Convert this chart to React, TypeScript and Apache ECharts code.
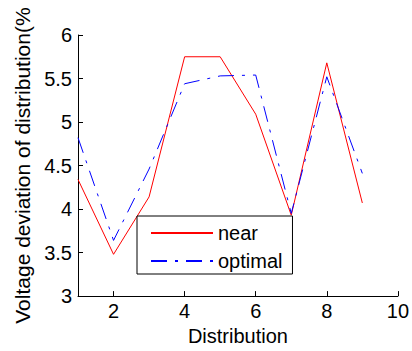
import React, { useEffect, useRef } from "react";
import * as echarts from "echarts";

const xValues = [1, 2, 3, 4, 5, 6, 7, 8, 9];
const nearValues = [4.34, 3.48, 4.14, 5.75, 5.75, 5.09, 3.93, 5.68, 4.07];
const optimalValues = [4.82, 3.64, 4.46, 5.44, 5.53, 5.54, 3.95, 5.52, 4.41];
const xTicks = [2, 4, 6, 8, 10];
const seriesNames = ["near", "optimal"];
const xName = "Distribution";
const yName = "Voltage deviation of distribution(%";

export default function App() {
  const ref = useRef<HTMLDivElement>(null);
  useEffect(() => {
    if (!ref.current) return;
    const chart = echarts.init(ref.current, null, { renderer: "svg" });
    const font = "Arial, 'Liberation Sans', sans-serif";
    chart.setOption({
      animation: false,
      backgroundColor: "#ffffff",
      textStyle: { fontFamily: font, color: "#000" },
      grid: { left: 78, right: 9, top: 35, bottom: 53, containLabel: false },
      legend: {
        left: 137,
        top: 216,
        orient: "vertical",
        backgroundColor: "#ffffff",
        borderColor: "#000",
        borderWidth: 1,
        borderRadius: 0,
        padding: [7, 10, 3, 13],
        itemWidth: 62,
        itemHeight: 14,
        itemGap: 8,
        itemStyle: { opacity: 0 },
        textStyle: { fontSize: 20, fontFamily: font, color: "#000" },
        data: seriesNames,
      },
      xAxis: {
        type: "value",
        min: 1,
        max: 10,
        name: xName,
        nameLocation: "middle",
        nameGap: 21,
        nameTextStyle: { fontSize: 20, fontFamily: font, color: "#000" },
        axisLine: { show: true, onZero: false, lineStyle: { color: "#000", width: 1 } },
        axisTick: { show: true, inside: true, length: 5, lineStyle: { color: "#000" }, customValues: xTicks },
        axisLabel: { fontSize: 20, fontFamily: font, color: "#000", margin: 5, customValues: xTicks },
        splitLine: { show: false },
      },
      yAxis: {
        type: "value",
        min: 3,
        max: 6,
        interval: 0.5,
        name: yName,
        nameLocation: "middle",
        nameRotate: 90,
        nameGap: 45,
        nameTextStyle: { fontSize: 21, fontFamily: font, color: "#000" },
        axisLine: { show: true, lineStyle: { color: "#000", width: 1 } },
        axisTick: { show: true, inside: true, length: 5, lineStyle: { color: "#000" } },
        axisLabel: { fontSize: 20, fontFamily: font, color: "#000", margin: 6 },
        splitLine: { show: false },
      },
      series: [
        {
          name: seriesNames[0],
          type: "line",
          symbol: "none",
          data: xValues.map((x, i) => [x, nearValues[i]]),
          lineStyle: { color: "#ff0000", width: 1, type: "solid" },
          itemStyle: { color: "#ff0000" },
        },
        {
          name: seriesNames[1],
          type: "line",
          symbol: "none",
          data: xValues.map((x, i) => [x, optimalValues[i]]),
          lineStyle: { color: "#0000ff", width: 1, type: [16, 8, 3, 8] },
          itemStyle: { color: "#0000ff" },
        },
      ],
    });
    return () => chart.dispose();
  }, []);
  return <div ref={ref} style={{ width: 412, height: 351, position: "absolute", left: 0, top: 0 }} />;
}
